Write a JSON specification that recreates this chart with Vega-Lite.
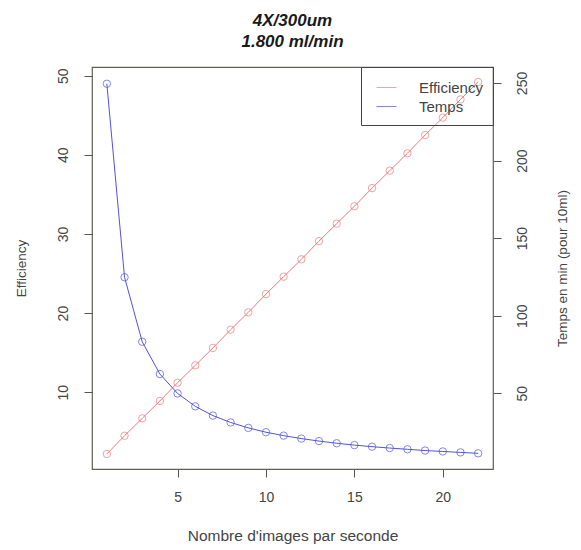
{
  "$schema": "https://vega.github.io/schema/vega-lite/v6.json",
  "width": 401,
  "height": 402,
  "autosize": {"type": "none"},
  "padding": {"left": 92, "top": 67, "right": 88, "bottom": 81},
  "background": "white",
  "title": {
    "text": ["4X/300um", "1.800 ml/min"],
    "font": "Liberation Sans",
    "fontSize": 17,
    "fontStyle": "italic",
    "fontWeight": "bold",
    "color": "#1a1a1a",
    "anchor": "middle",
    "lineHeight": 21,
    "offset": 16
  },
  "config": {
    "view": {"stroke": "#5f5f55", "strokeWidth": 1.2},
    "axis": {
      "grid": false,
      "domain": false,
      "tickColor": "#555",
      "tickSize": 8,
      "labelFont": "Liberation Sans",
      "labelFontSize": 14,
      "labelColor": "#444",
      "titleFont": "Liberation Sans",
      "titleFontSize": 13.5,
      "titleFontWeight": "normal",
      "titleColor": "#444"
    },
    "legend": {
      "orient": "top-right",
      "offset": 0,
      "strokeColor": "#444",
      "fillColor": "transparent",
      "padding": 10,
      "symbolOffset": 5,
      "symbolType": "stroke",
      "symbolSize": 400,
      "symbolStrokeWidth": 1,
      "labelFont": "Liberation Sans",
      "labelFontSize": 15,
      "labelColor": "#444",
      "labelOffset": 22,
      "rowPadding": 0,
      "title": null
    }
  },
  "data": {
    "values": [
      {"fps": 1, "efficiency": 2.2, "temps": 249.5},
      {"fps": 2, "efficiency": 4.5, "temps": 124.8},
      {"fps": 3, "efficiency": 6.7, "temps": 83.2},
      {"fps": 4, "efficiency": 8.9, "temps": 62.4},
      {"fps": 5, "efficiency": 11.2, "temps": 49.9},
      {"fps": 6, "efficiency": 13.4, "temps": 41.6},
      {"fps": 7, "efficiency": 15.6, "temps": 35.6},
      {"fps": 8, "efficiency": 17.9, "temps": 31.2},
      {"fps": 9, "efficiency": 20.1, "temps": 27.7},
      {"fps": 10, "efficiency": 22.4, "temps": 24.9},
      {"fps": 11, "efficiency": 24.6, "temps": 22.7},
      {"fps": 12, "efficiency": 26.8, "temps": 20.8},
      {"fps": 13, "efficiency": 29.1, "temps": 19.2},
      {"fps": 14, "efficiency": 31.3, "temps": 17.8},
      {"fps": 15, "efficiency": 33.5, "temps": 16.6},
      {"fps": 16, "efficiency": 35.8, "temps": 15.6},
      {"fps": 17, "efficiency": 38.0, "temps": 14.7},
      {"fps": 18, "efficiency": 40.2, "temps": 13.9},
      {"fps": 19, "efficiency": 42.5, "temps": 13.1},
      {"fps": 20, "efficiency": 44.7, "temps": 12.5},
      {"fps": 21, "efficiency": 47.0, "temps": 11.9},
      {"fps": 22, "efficiency": 49.2, "temps": 11.3}
    ]
  },
  "encoding": {
    "x": {
      "field": "fps",
      "type": "quantitative",
      "scale": {"domain": [0.16, 22.84], "nice": false, "zero": false},
      "axis": {"values": [5, 10, 15, 20], "title": "Nombre d'images par seconde", "titleFontSize": 15.5, "labelPadding": 13, "titlePadding": 24}
    }
  },
  "layer": [
    {
      "encoding": {
        "y": {
          "field": "efficiency",
          "type": "quantitative",
          "scale": {"domain": [0.3, 51.1], "nice": false, "zero": false},
          "axis": {"orient": "left", "values": [10, 20, 30, 40, 50], "title": "Efficiency", "labelAngle": -90, "labelAlign": "center", "labelBaseline": "bottom", "labelPadding": 14, "titlePadding": 28}
        },
        "color": {
          "datum": "Efficiency",
          "scale": {"domain": ["Efficiency", "Temps"], "range": ["#ee7b7b", "#5252dd"]}
        }
      },
      "layer": [
        {"mark": {"type": "line", "strokeWidth": 1}},
        {"mark": {"type": "point", "shape": "circle", "size": 55, "strokeWidth": 1, "filled": false}}
      ]
    },
    {
      "encoding": {
        "y": {
          "field": "temps",
          "type": "quantitative",
          "scale": {"domain": [1.2, 260.3], "nice": false, "zero": false},
          "axis": {"orient": "right", "values": [50, 100, 150, 200, 250], "title": "Temps en min (pour 10ml)", "titleAngle": -90, "titleBaseline": "top", "labelAngle": -90, "labelAlign": "center", "labelBaseline": "top", "labelPadding": 14, "titlePadding": 26}
        },
        "color": {"datum": "Temps"}
      },
      "layer": [
        {"mark": {"type": "line", "strokeWidth": 1}},
        {"mark": {"type": "point", "shape": "circle", "size": 55, "strokeWidth": 1, "filled": false}}
      ]
    }
  ],
  "resolve": {"scale": {"y": "independent"}}
}
